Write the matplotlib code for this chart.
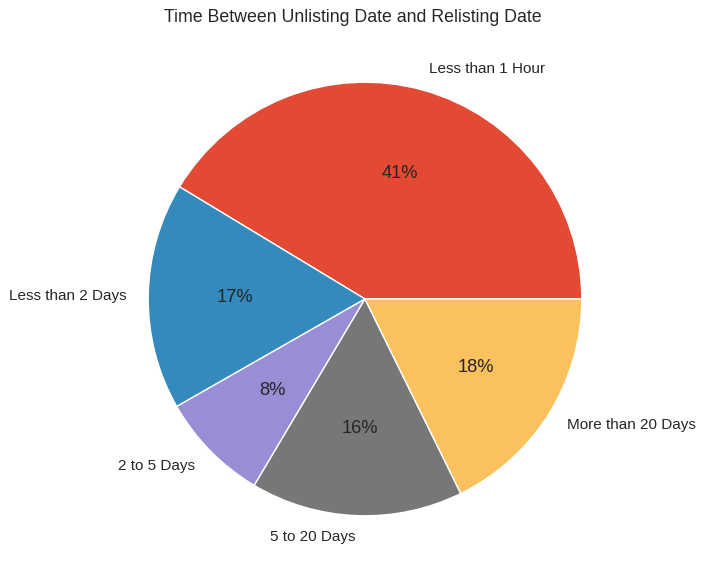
import matplotlib
matplotlib.use("Agg")
import matplotlib.pyplot as plt

plt.rcParams["font.family"] = ["Liberation Sans", "DejaVu Sans"]

# ── Data ─────────────────────────────────────────────────────────────────────
labels = ["Less than 1 Hour", "Less than 2 Days", "2 to 5 Days",
          "5 to 20 Days", "More than 20 Days"]
shares = [41.3, 16.9, 8.2, 15.8, 17.7]
colors = ["#E24A33", "#348ABD", "#988ED5", "#777777", "#FBC15E"]

fig = plt.figure(figsize=(7.05, 5.77), dpi=100)
# pie limits run to +/-1.25 radius, so size the axes for a ~217 px radius
ax = fig.add_axes([94 / 705, 7 / 577, 542 / 705, 542 / 577])

wedges, texts, autotexts = ax.pie(
    shares, labels=labels, colors=colors, autopct="%1.0f%%",
    startangle=0, counterclock=True,
    wedgeprops={"edgecolor": "white", "linewidth": 1},
    textprops={"fontsize": 11, "color": "#262626"},
)
for t in autotexts:
    t.set_fontsize(13.2)
    t.set_color("#262626")
ax.set_aspect("equal")

fig.text(0.5, 1 - 17 / 577, "Time Between Unlisting Date and Relisting Date",
         ha="center", va="center", fontsize=12.8, color="#262626")

fig.savefig("out.png", dpi=100)
